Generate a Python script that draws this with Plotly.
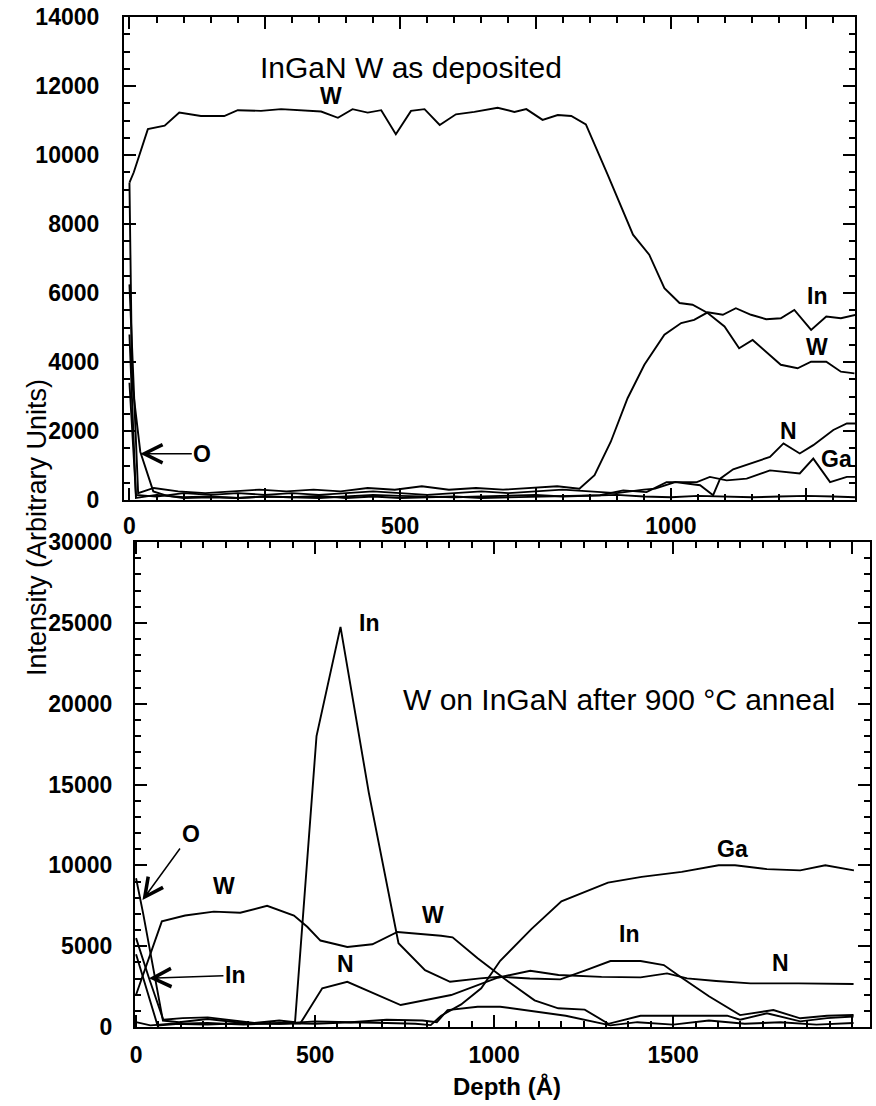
import plotly.graph_objects as go

# ---------------- Top panel: InGaN W as deposited ----------------
top_W_depth = [0, 8, 34, 65, 92, 132, 175, 200, 243, 280, 354, 385, 412, 440, 465, 492, 520, 545, 573,
               603, 637, 680, 711, 733, 763, 791, 816, 843, 883, 930, 960, 988, 1016, 1040, 1068, 1099,
               1126, 1151, 1203, 1234, 1259, 1287, 1314, 1339]
top_W = [9200, 9500, 10750, 10850, 11230, 11130, 11130, 11300, 11280, 11330, 11260, 11080, 11330, 11230,
         11300, 10600, 11280, 11330, 10870, 11180, 11250, 11370, 11250, 11330, 11020, 11160, 11130, 10890,
         9440, 7690, 7110, 6140, 5710, 5660, 5420, 5030, 4400, 4640, 3920, 3820, 4010, 4010, 3720, 3670]

top_In_depth = [0, 16, 45, 90, 140, 190, 240, 290, 340, 390, 440, 490, 540, 590, 640, 690, 740, 790, 831,
                859, 889, 920, 951, 988, 1019, 1043, 1068, 1096, 1120, 1148, 1176, 1203, 1228, 1259, 1287,
                1314, 1342]
top_In = [6250, 200, 350, 250, 200, 250, 300, 250, 300, 250, 350, 300, 400, 300, 350, 300, 350, 400, 330,
          720, 1690, 2950, 3920, 4790, 5130, 5220, 5440, 5370, 5560, 5370, 5240, 5270, 5510, 4930, 5320,
          5270, 5370]

top_N_depth = [0, 12, 50, 100, 150, 200, 250, 300, 350, 400, 450, 500, 550, 600, 650, 700, 750, 800, 850,
               900, 950, 971, 1008, 1054, 1078, 1091, 1115, 1146, 1183, 1208, 1238, 1263, 1300, 1325, 1346]
top_N = [3400, 150, 100, 200, 150, 200, 150, 200, 150, 200, 250, 200, 150, 200, 250, 200, 250, 300, 250,
         200, 300, 330, 520, 430, 140, 620, 890, 1060, 1250, 1640, 1350, 1590, 2030, 2220, 2220]

top_Ga_depth = [0, 12, 50, 100, 150, 200, 250, 300, 350, 400, 450, 500, 550, 600, 650, 700, 750, 800, 869,
                912, 955, 992, 1048, 1072, 1103, 1140, 1183, 1238, 1263, 1294, 1325, 1345]
top_Ga = [4800, 60, 150, 80, 100, 60, 100, 80, 120, 60, 100, 60, 80, 100, 60, 80, 100, 120, 140, 280, 230,
          520, 520, 670, 570, 620, 860, 770, 1200, 520, 670, 670]

top_O_depth = [0, 5, 20, 44, 70, 100, 150, 200, 250, 300, 350, 400, 450, 500, 550, 600, 650, 700, 750, 800,
               850, 900, 950, 1000, 1050, 1100, 1150, 1200, 1250, 1300, 1340]
top_O = [9200, 3400, 1400, 250, 120, 60, 80, 60, 100, 80, 60, 100, 150, 120, 100, 80, 100, 120, 150, 100,
         120, 150, 100, 80, 120, 100, 80, 100, 120, 100, 80]

# ---------------- Bottom panel: W on InGaN after 900 C anneal ----------------
bot_W_depth = [0, 72, 137, 217, 291, 366, 441, 478, 515, 590, 660, 730, 852, 884, 954, 1029, 1113, 1179,
               1253, 1319, 1409, 1500, 1651, 1687, 1762, 1855, 1930, 2004]
bot_W = [2000, 6540, 6900, 7140, 7070, 7500, 6900, 6200, 5350, 4950, 5120, 5880, 5650, 5550, 4250, 2980,
         1650, 1160, 1080, 200, 700, 700, 700, 450, 850, 350, 550, 650]

bot_In_depth = [0, 36, 76, 130, 200, 260, 330, 400, 444, 504, 571, 650, 709, 733, 807, 877, 961, 1017, 1100,
                1185, 1255, 1325, 1409, 1474, 1520, 1600, 1687, 1780, 1855, 1930, 2004]
bot_In = [5500, 3030, 450, 550, 600, 450, 250, 400, 300, 18000, 24750, 14500, 7900, 5180, 3520, 2800, 3010,
          3110, 3000, 2950, 3500, 4080, 4080, 3835, 3110, 1900, 740, 1050, 540, 700, 740]

bot_N_depth = [0, 40, 100, 200, 300, 400, 459, 520, 590, 660, 739, 880, 1010, 1101, 1180, 1300, 1409, 1483,
               1539, 1620, 1716, 1850, 2004]
bot_N = [300, 100, 200, 150, 250, 200, 230, 2400, 2800, 2100, 1360, 1980, 3050, 3480, 3215, 3100, 3070,
         3320, 3010, 2850, 2700, 2700, 2660]

bot_Ga_depth = [0, 60, 120, 200, 300, 400, 500, 600, 700, 780, 823, 852, 908, 964, 1017, 1104, 1188, 1318,
                1412, 1477, 1524, 1627, 1673, 1762, 1855, 1925, 2005]
bot_Ga = [4500, 100, 200, 250, 150, 250, 200, 300, 250, 200, 120, 700, 1400, 2400, 4100, 6060, 7780, 8930,
          9290, 9460, 9600, 10010, 10010, 9770, 9690, 10010, 9690]

bot_O_depth = [0, 20, 75, 120, 200, 300, 400, 500, 600, 700, 800, 840, 870, 954, 1017, 1100, 1200, 1325,
               1400, 1500, 1600, 1700, 1800, 1900, 2004]
bot_O = [9200, 7000, 400, 300, 500, 250, 200, 350, 300, 450, 400, 300, 1050, 1255, 1255, 1000, 700, 100,
         300, 150, 400, 200, 300, 150, 250]

# ---------------- Axis ticks ----------------
top_x_ticks = [0, 250, 500, 750, 1000, 1250]
top_x_labels = ["0", "", "500", "", "1000", ""]
top_y_ticks = [0, 2000, 4000, 6000, 8000, 10000, 12000, 14000]
top_y_labels = ["0", "2000", "4000", "6000", "8000", "10000", "12000", "14000"]
bot_x_ticks = [0, 500, 1000, 1500, 2000]
bot_x_labels = ["0", "500", "1000", "1500", "2000"]
bot_y_ticks = [0, 5000, 10000, 15000, 20000, 25000, 30000]
bot_y_labels = ["0", "5000", "10000", "15000", "20000", "25000", "30000"]

FONT = "Liberation Sans, Arial, Helvetica, sans-serif"

fig = go.Figure()

def add_line(x, y, xa, ya, name):
    fig.add_trace(go.Scatter(x=x, y=y, mode="lines", name=name, xaxis=xa, yaxis=ya,
                             line=dict(color="black", width=1.9), showlegend=False,
                             hoverinfo="skip"))

add_line(top_W_depth, top_W, "x", "y", "W")
add_line(top_In_depth, top_In, "x", "y", "In")
add_line(top_N_depth, top_N, "x", "y", "N")
add_line(top_Ga_depth, top_Ga, "x", "y", "Ga")
add_line(top_O_depth, top_O, "x", "y", "O")

add_line(bot_W_depth, bot_W, "x2", "y2", "W")
add_line(bot_In_depth, bot_In, "x2", "y2", "In")
add_line(bot_N_depth, bot_N, "x2", "y2", "N")
add_line(bot_Ga_depth, bot_Ga, "x2", "y2", "Ga")
add_line(bot_O_depth, bot_O, "x2", "y2", "O")

tickfont = dict(family=FONT, size=23, color="black", weight="bold")

def axis_common():
    return dict(showline=True, linewidth=2.2, linecolor="black", mirror="allticks",
                ticks="inside", ticklen=12, tickwidth=2, tickcolor="black",
                showgrid=False, zeroline=False, tickfont=tickfont, tickmode="array",
                fixedrange=True, automargin=False)

xa = axis_common()
xa.update(domain=[0.1416, 0.976], range=[-10, 1340], anchor="y", tickvals=top_x_ticks,
          ticktext=top_x_labels, ticklabelstandoff=4,
          minor=dict(tickmode="linear", tick0=0, dtick=50, ticks="inside", ticklen=6,
                     tickwidth=1.5, tickcolor="black"))
ya = axis_common()
ya.update(domain=[0.5479, 0.9846], range=[0, 14000], anchor="x", tickvals=top_y_ticks,
          ticktext=top_y_labels, ticklabelstandoff=18,
          minor=dict(tickmode="linear", tick0=0, dtick=500, ticks="inside", ticklen=6,
                     tickwidth=1.5, tickcolor="black"))
xa2 = axis_common()
xa2.update(domain=[0.1541, 0.9932], range=[-3, 2050], anchor="y2", tickvals=bot_x_ticks,
           ticktext=bot_x_labels, ticklabelstandoff=6,
           minor=dict(tickmode="linear", tick0=0, dtick=62.5, ticks="inside", ticklen=6,
                      tickwidth=1.5, tickcolor="black"))
ya2 = axis_common()
ya2.update(domain=[0.0714, 0.5099], range=[0, 30000], anchor="x2", tickvals=bot_y_ticks,
           ticktext=bot_y_labels, ticklabelstandoff=16,
           minor=dict(tickmode="linear", tick0=0, dtick=1000, ticks="inside", ticklen=6,
                      tickwidth=1.5, tickcolor="black"))

labfont = dict(family=FONT, size=23, color="black", weight="bold")
titlefont = dict(family=FONT, size=30, color="black")
arrow = dict(showarrow=True, arrowhead=5, arrowsize=2.4, arrowwidth=1.5, arrowcolor="black")

annotations = [
    # top panel
    dict(x=520, y=12550, xref="x", yref="y", text="InGaN W as deposited", showarrow=False, font=titlefont),
    dict(x=373, y=11700, xref="x", yref="y", text="W", showarrow=False, font=labfont),
    dict(x=1269, y=5900, xref="x", yref="y", text="In", showarrow=False, font=labfont),
    dict(x=1269, y=4450, xref="x", yref="y", text="W", showarrow=False, font=labfont),
    dict(x=1217, y=2000, xref="x", yref="y", text="N", showarrow=False, font=labfont),
    dict(x=1306, y=1200, xref="x", yref="y", text="Ga", showarrow=False, font=labfont),
    dict(x=20, y=1340, xref="x", yref="y", text="O", ax=62, ay=0, font=labfont, **arrow),
    # bottom panel
    dict(x=1349, y=20250, xref="x2", yref="y2", text="W on InGaN after 900 °C anneal",
         showarrow=False, font=titlefont),
    dict(x=651, y=25000, xref="x2", yref="y2", text="In", showarrow=False, font=labfont),
    dict(x=246, y=8700, xref="x2", yref="y2", text="W", showarrow=False, font=labfont),
    dict(x=828, y=6900, xref="x2", yref="y2", text="W", showarrow=False, font=labfont),
    dict(x=586, y=3900, xref="x2", yref="y2", text="N", showarrow=False, font=labfont),
    dict(x=1666, y=11000, xref="x2", yref="y2", text="Ga", showarrow=False, font=labfont),
    dict(x=1377, y=5750, xref="x2", yref="y2", text="In", showarrow=False, font=labfont),
    dict(x=1801, y=3950, xref="x2", yref="y2", text="N", showarrow=False, font=labfont),
    dict(x=18, y=7855, xref="x2", yref="y2", text="O", ax=48, ay=-66, font=labfont, **arrow),
    dict(x=36, y=3010, xref="x2", yref="y2", text="In", ax=86, ay=-3, font=labfont, **arrow),
    # axis titles
    dict(x=20 / 876, y=1 - 528 / 1106, xref="paper", yref="paper", text="Intensity (Arbitrary Units)",
         showarrow=False, textangle=-90, font=dict(family=FONT, size=27, color="black")),
    dict(x=507 / 876, y=0.004, xref="paper", yref="paper", yanchor="bottom", text="Depth (Å)",
         showarrow=False, font=dict(family=FONT, size=24, color="black", weight="bold")),
]

fig.update_layout(width=876, height=1106, autosize=False,
                  margin=dict(l=0, r=0, t=0, b=0, pad=0, autoexpand=False),
                  paper_bgcolor="white", plot_bgcolor="white",
                  xaxis=xa, yaxis=ya, xaxis2=xa2, yaxis2=ya2, annotations=annotations,
                  showlegend=False)

fig.write_html("out.html")
